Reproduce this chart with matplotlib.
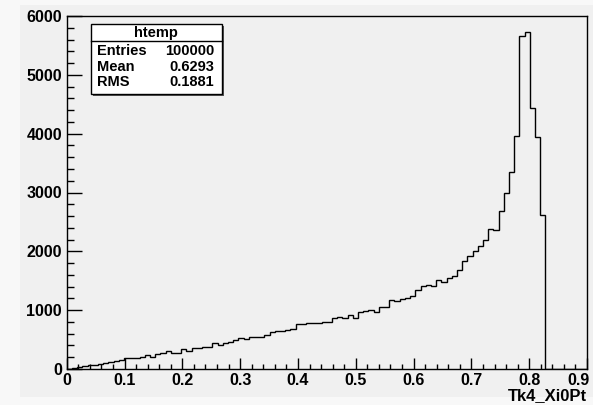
"""ROOT-style histogram of Tk4_Xi0Pt (htemp)."""
import matplotlib

matplotlib.use("Agg")
import matplotlib.pyplot as plt
import matplotlib.transforms as mtransforms
from matplotlib.patches import Rectangle
import numpy as np

# 100 bins from 0 to 0.9, counts
x_min, x_max, n_bins = 0.0, 0.9, 100
counts = [
    5, 15, 30, 50, 65, 70, 90, 100, 119, 136,
    159, 182, 182, 182, 210, 239, 205, 250, 278, 301,
    267, 267, 335, 313, 352, 352, 381, 381, 437, 409,
    437, 466, 494, 523, 512, 540, 540, 545, 580, 636,
    640, 650, 660, 680, 767, 772, 779, 779, 782, 796,
    796, 864, 892, 875, 920, 875, 966, 989, 1000, 977,
    1062, 1062, 1176, 1159, 1193, 1215, 1244, 1347, 1403, 1432,
    1415, 1517, 1483, 1539, 1573, 1676, 1829, 1914, 2011, 2085,
    2199, 2386, 2369, 2681, 2994, 3346, 3960, 5654, 5722, 4443,
    3949, 2625, 0, 0, 0, 0, 0, 0, 0, 0,
]
x_ticks = [0, 0.1, 0.2, 0.3, 0.4, 0.5, 0.6, 0.7, 0.8, 0.9]
x_tick_labels = ["0", "0.1", "0.2", "0.3", "0.4", "0.5", "0.6", "0.7", "0.8", "0.9"]
y_ticks = [0, 1000, 2000, 3000, 4000, 5000, 6000]
stats_title = "htemp"
stats_rows = [("Entries", "100000"), ("Mean", "0.6293"), ("RMS", "0.1881")]
x_title = "Tk4_Xi0Pt"

W, H = 593, 405
BG = "#f0f0f0"

plt.rcParams.update({
    "font.family": ["Liberation Sans", "DejaVu Sans"],
    "font.weight": "bold",
})


def fx(px):
    return px / W


def fy(py):
    return (H - py) / H


fig = plt.figure(figsize=(W / 100, H / 100), dpi=100, facecolor="#f8f8f8")
fig.patches.append(Rectangle((fx(20), fy(397)), fx(W) - fx(20), fy(5) - fy(397),
                             transform=fig.transFigure, facecolor=BG,
                             edgecolor="none", zorder=-5))

left, right, top, bottom = 66.7, 587, 16, 369
ax = fig.add_axes([fx(left), fy(bottom), fx(right) - fx(left), fy(top) - fy(bottom)])
ax.set_zorder(2)
ax.set_facecolor(BG)

edges = np.linspace(x_min, x_max, n_bins + 1)
ax.stairs(counts, edges, color="black", linewidth=1.0)

ax.set_xlim(x_min, x_max)
ax.set_ylim(0, 6000)
ax.set_xticks(x_ticks)
ax.set_xticklabels(x_tick_labels)
ax.set_xticks(np.arange(0, 0.9001, 0.02), minor=True)
ax.set_yticks(y_ticks)
ax.set_yticks(np.arange(0, 6001, 200), minor=True)
ax.tick_params(axis="x", which="major", direction="in", length=7.7, width=1,
               labelsize=11.5, pad=3)
ax.tick_params(axis="x", which="minor", direction="in", length=3.6, width=1)
ax.tick_params(axis="y", which="major", direction="in", length=10.8, width=1,
               labelsize=11.5, pad=3.4)
ax.tick_params(axis="y", which="minor", direction="in", length=5, width=1)
for s in ax.spines.values():
    s.set_linewidth(1.0)
    s.set_color("black")

# ROOT pulls the last label back inside the canvas
last = ax.get_xticklabels()[-1]
last.set_transform(last.get_transform()
                   + mtransforms.ScaledTranslation(-0.08, 0, fig.dpi_scale_trans))

fig.text(fx(587), fy(396), x_title, ha="right", va="center", fontsize=12,
         fontweight="bold", zorder=3)

# stats box
bx0, by0, bx1, by1 = 90.7, 24, 221.7, 94.3
fig.patches.append(Rectangle((fx(bx0 + 2), fy(by1 + 2)), fx(bx1) - fx(bx0), fy(by0) - fy(by1),
                             transform=fig.transFigure, facecolor="#555555",
                             edgecolor="none", zorder=5))
fig.patches.append(Rectangle((fx(bx0), fy(by1)), fx(bx1) - fx(bx0), fy(by0) - fy(by1),
                             transform=fig.transFigure, facecolor="white",
                             edgecolor="black", linewidth=1, zorder=6))
fig.add_artist(plt.Line2D([fx(bx0), fx(bx1)], [fy(41), fy(41)], color="black",
                          linewidth=1, transform=fig.transFigure, zorder=7))
fig.text(fx((bx0 + bx1) / 2), fy(32.5), stats_title, ha="center", va="center",
         fontsize=10.5, fontweight="bold", zorder=8)
for (name, value), yrow in zip(stats_rows, [50.7, 66.7, 81.7]):
    fig.text(fx(96.7), fy(yrow), name, ha="left", va="center", fontsize=10.5,
             fontweight="bold", zorder=8)
    fig.text(fx(214), fy(yrow), value, ha="right", va="center", fontsize=10.5,
             fontweight="bold", zorder=8)

fig.savefig("out.png", dpi=100, facecolor=fig.get_facecolor())
